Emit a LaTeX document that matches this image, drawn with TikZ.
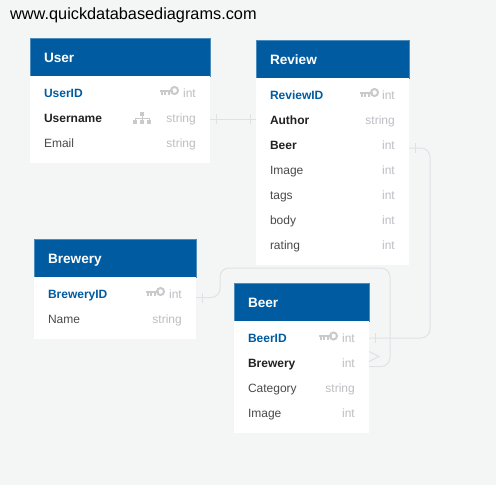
\documentclass[tikz,border=0pt]{standalone}
\usepackage{fontspec}
\setmainfont{Liberation Sans}
\usepackage{tikz}
\usetikzlibrary{positioning}
\definecolor{canvas}{HTML}{F4F6F6}
\definecolor{headblue}{HTML}{005BA1}
\definecolor{typegray}{HTML}{BCBEC3}
\definecolor{icongray}{HTML}{C9CACC}
\definecolor{linkgray}{HTML}{DFE1E7}
\definecolor{plaintext}{HTML}{4A4A4A}
\definecolor{fktext}{HTML}{222222}

\begin{document}
\begin{tikzpicture}[
  x=1pt,y=-1pt,
  node distance=0pt,
  tablehead/.style={fill=headblue,draw=headblue!70,line width=.4pt,text=white,font=\fontsize{13.6}{16}\selectfont\bfseries,
    anchor=north west,outer sep=0pt,inner xsep=14pt,inner ysep=0pt,minimum width=#1,text width=#1-28pt,minimum height=38pt,
    text height=11pt,text depth=0pt},
  tablebody/.style={fill=white,outer sep=0pt,inner sep=0pt,minimum width=#1},
  fieldrow/.style={font=\fontsize{12}{14}\selectfont,text=plaintext,outer sep=0pt,inner xsep=14pt,inner ysep=0pt,
    minimum width=#1,text width=#1-28pt,minimum height=25pt,text height=9pt,text depth=3pt},
  pkrow/.style={fieldrow=#1,text=headblue,font=\fontsize{12}{14}\selectfont\bfseries},
  fkrow/.style={fieldrow=#1,text=fktext,font=\fontsize{12}{14}\selectfont\bfseries},
  typelabel/.style={font=\fontsize{12}{14}\selectfont,text=typegray,anchor=east,inner sep=0pt,xshift=-14pt,text height=9pt,text depth=3pt},
  link/.style={draw=linkgray,line width=1pt,rounded corners=9pt},
  tickmark/.style={draw=linkgray,line width=1pt},
  keyicon/.pic={
    \fill[icongray] (-18,-1.5) rectangle (-5,.5);
    \fill[icongray] (-17.5,.5) rectangle (-15.5,3.5);
    \fill[icongray] (-14,.5) rectangle (-12,3.5);
    \fill[icongray] (-10.5,.5) rectangle (-8.5,3.5);
    \draw[icongray,line width=2pt] (-3.5,-.5) circle (3.5pt);
  },
  orgicon/.pic={
    \fill[icongray] (-2,-6) rectangle (2,-2);
    \fill[icongray] (-9,2) rectangle (-5,6);
    \fill[icongray] (-2,2) rectangle (2,6);
    \fill[icongray] (5,2) rectangle (9,6);
    \draw[icongray,line width=.8pt] (0,-2) -- (0,2) (-7,2) -- (-7,0) -- (7,0) -- (7,2);
  }
]
  \fill[canvas] (0,0) rectangle (496,485);
  \node[anchor=west,inner sep=0pt,font=\fontsize{16.3}{18}\selectfont] (site) at (10,15) {www.quickdatabasediagrams.com};

  % User
  \node[tablehead=180pt] (userhead) at (30,38) {User};
  \node[tablebody=180pt,minimum height=87pt,below=of userhead] (userbody) {};
  \node[pkrow=180pt,below=6pt of userhead] (userid) {UserID};
  \node[fkrow=180pt,below=of userid] (username) {Username};
  \node[fieldrow=180pt,below=of username] (useremail) {Email};
  \node[typelabel] (useridtype) at (userid.east) {int};
  \node[typelabel] (usernametype) at (username.east) {string};
  \node[typelabel] (useremailtype) at (useremail.east) {string};
  \pic at ([xshift=-32pt,yshift=3.5pt]userid.east) {keyicon};
  \pic at ([xshift=-68pt,yshift=1.5pt]username.east) {orgicon};

  % Review
  \node[tablehead=153pt] (reviewhead) at (256,40) {Review};
  \node[tablebody=153pt,minimum height=187pt,below=of reviewhead] (reviewbody) {};
  \node[pkrow=153pt,below=6pt of reviewhead] (reviewid) {ReviewID};
  \node[fkrow=153pt,below=of reviewid] (reviewauthor) {Author};
  \node[fkrow=153pt,below=of reviewauthor] (reviewbeer) {Beer};
  \node[fieldrow=153pt,below=of reviewbeer] (reviewimage) {Image};
  \node[fieldrow=153pt,below=of reviewimage] (reviewtags) {tags};
  \node[fieldrow=153pt,below=of reviewtags] (reviewtext) {body};
  \node[fieldrow=153pt,below=of reviewtext] (reviewrating) {rating};
  \node[typelabel] (reviewidtype) at (reviewid.east) {int};
  \node[typelabel] (reviewauthortype) at (reviewauthor.east) {string};
  \node[typelabel] (reviewbeertype) at (reviewbeer.east) {int};
  \node[typelabel] (reviewimagetype) at (reviewimage.east) {int};
  \node[typelabel] (reviewtagstype) at (reviewtags.east) {int};
  \node[typelabel] (reviewtexttype) at (reviewtext.east) {int};
  \node[typelabel] (reviewratingtype) at (reviewrating.east) {int};
  \pic at ([xshift=-31pt,yshift=3.5pt]reviewid.east) {keyicon};

  % Brewery
  \node[tablehead=162pt] (breweryhead) at (34,239) {Brewery};
  \node[tablebody=162pt,minimum height=62pt,below=of breweryhead] (brewerybody) {};
  \node[pkrow=162pt,below=6pt of breweryhead] (breweryid) {BreweryID};
  \node[fieldrow=162pt,below=of breweryid] (breweryname) {Name};
  \node[typelabel] (breweryidtype) at (breweryid.east) {int};
  \node[typelabel] (brewerynametype) at (breweryname.east) {string};
  \pic at ([xshift=-32pt,yshift=3.5pt]breweryid.east) {keyicon};

  % Beer
  \node[tablehead=135pt] (beerhead) at (234,283) {Beer};
  \node[tablebody=135pt,minimum height=112pt,below=of beerhead] (beerbody) {};
  \node[pkrow=135pt,below=6pt of beerhead] (beerid) {BeerID};
  \node[fkrow=135pt,below=of beerid] (beerbrewery) {Brewery};
  \node[fieldrow=135pt,below=of beerbrewery] (beercategory) {Category};
  \node[fieldrow=135pt,below=of beercategory] (beerimage) {Image};
  \node[typelabel] (beeridtype) at (beerid.east) {int};
  \node[typelabel] (beerbrewerytype) at (beerbrewery.east) {int};
  \node[typelabel] (beercategorytype) at (beercategory.east) {string};
  \node[typelabel] (beerimagetype) at (beerimage.east) {int};
  \pic at ([xshift=-32pt,yshift=3pt]beerid.east) {keyicon};

  % links
  \coordinate (userstart) at ([yshift=.5pt]username.east);
  \coordinate (authorend) at (userstart -| reviewauthor.west);
  \draw[link] (userstart) -- (authorend);
  \draw[tickmark] ([xshift=6pt]userstart) ++(0,-5) -- ++(0,10);
  \draw[tickmark] ([xshift=-6pt]authorend) ++(0,-5) -- ++(0,10);

  \coordinate (beerstart) at ([yshift=-1.5pt]reviewbeer.east);
  \coordinate (beerend) at ([yshift=1.5pt]beerid.east);
  \coordinate (beerbend) at (430,148);
  \draw[link] (beerstart) -- (beerbend) -- (beerbend |- beerend) -- (beerend);
  \draw[tickmark] ([xshift=6pt]beerstart) ++(0,-5) -- ++(0,10);
  \draw[tickmark] ([xshift=6pt]beerend) ++(0,-5) -- ++(0,10);

  \coordinate (brewstart) at ([yshift=-2pt]breweryid.east);
  \coordinate (brewend) at ([yshift=-2pt]beerbrewery.east);
  \coordinate (brewtopleft) at (220,268);
  \coordinate (brewtopright) at (390,268);
  \draw[link] (brewstart) -- (brewstart -| brewtopleft) -- (brewtopleft) -- (brewtopright) -- (brewtopright |- brewend) -- (brewend);
  \draw[tickmark] ([xshift=6pt]brewstart) ++(0,-5) -- ++(0,10);
  \draw[tickmark] ([yshift=5pt]brewend) -- ++(10,-5) -- ++(-10,-5);
\end{tikzpicture}
\end{document}
